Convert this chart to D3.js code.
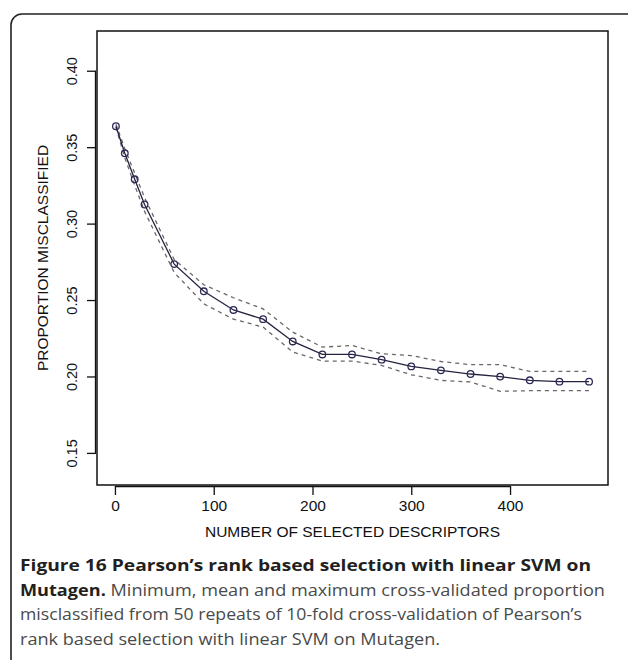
<!DOCTYPE html>
<html>
<head>
<meta charset="utf-8">
<script src="https://cdn.jsdelivr.net/npm/d3@7/dist/d3.min.js"></script>
<style>
  html, body { margin: 0; padding: 0; background: #fff; }
  svg { display: block; }
</style>
</head>
<body>
<svg id="chart" width="628" height="660"></svg>
<script>
// ---- data ----
const descriptors = [1, 10, 20, 30, 60, 90, 120, 150, 180, 210, 240, 270, 300, 330, 360, 390, 420, 450, 480];
const meanErr = [0.3637, 0.346, 0.329, 0.3125, 0.2735, 0.2557, 0.2435, 0.2375, 0.2229, 0.2144, 0.2144, 0.211, 0.2066, 0.204, 0.2016, 0.1999, 0.1975, 0.1966, 0.1966];
const maxErr  = [0.365, 0.349, 0.333, 0.317, 0.2765, 0.260, 0.2515, 0.2442, 0.229, 0.2192, 0.2203, 0.2148, 0.2137, 0.2098, 0.2077, 0.2077, 0.2033, 0.2033, 0.2033];
const minErr  = [0.363, 0.343, 0.325, 0.308, 0.268, 0.2475, 0.2375, 0.2323, 0.216, 0.2101, 0.2101, 0.2072, 0.2011, 0.1974, 0.1964, 0.1903, 0.1907, 0.1907, 0.1907];
const xTicks = [0, 100, 200, 300, 400];
const yTicks = [0.15, 0.20, 0.25, 0.30, 0.35, 0.40];
const xTitle = "NUMBER OF SELECTED DESCRIPTORS";
const yTitle = "PROPORTION MISCLASSIFIED";
const captionBold1 = "Figure 16 Pearson\u2019s rank based selection with linear SVM on";
const captionBold2 = "Mutagen.";
const captionRest2 = " Minimum, mean and maximum cross-validated proportion";
const captionLine3 = "misclassified from 50 repeats of 10-fold cross-validation of Pearson\u2019s";
const captionLine4 = "rank based selection with linear SVM on Mutagen.";

// ---- layout ----
const svg = d3.select("#chart");
const box = { left: 97, right: 608, top: 31, bottom: 485 };

const x = d3.scaleLinear().domain([-18.16, 499.16]).range([box.left, box.right]);
const y = d3.scaleLinear().domain([0.129, 0.426]).range([box.bottom, box.top]);

// outer frame (rounded, open to the right/bottom)
svg.append("rect")
  .attr("x", 11).attr("y", 14).attr("width", 700).attr("height", 700)
  .attr("rx", 11).attr("ry", 11)
  .attr("fill", "none").attr("stroke", "#222").attr("stroke-width", 1.6);

// plot box
svg.append("rect")
  .attr("x", box.left).attr("y", box.top)
  .attr("width", box.right - box.left).attr("height", box.bottom - box.top)
  .attr("fill", "none").attr("stroke", "#111").attr("stroke-width", 1.5);

// axes
const xAxis = svg.append("g")
  .attr("transform", `translate(0,${box.bottom + 1})`)
  .call(d3.axisBottom(x).tickValues(xTicks).tickSize(9).tickSizeOuter(0).tickPadding(5).tickFormat(d3.format("d")));
xAxis.select(".domain")
  .attr("d", `M${x(0)},0.5H${x(400)}`)
  .attr("stroke", "#111").attr("stroke-width", 1.3);
xAxis.selectAll(".tick line").attr("stroke", "#111").attr("stroke-width", 1.3);
xAxis.selectAll(".tick text")
  .attr("font-family", "'Liberation Sans', Arial, sans-serif")
  .attr("font-size", 15.5).attr("fill", "#111");

const yAxis = svg.append("g")
  .attr("transform", `translate(${box.left - 1},0)`)
  .call(d3.axisLeft(y).tickValues(yTicks).tickSize(9).tickSizeOuter(0).tickPadding(0).tickFormat(d3.format(".2f")));
yAxis.select(".domain")
  .attr("d", `M-0.5,${y(0.15)}V${y(0.40)}`)
  .attr("stroke", "#111").attr("stroke-width", 1.3);
yAxis.selectAll(".tick line").attr("stroke", "#111").attr("stroke-width", 1.3);
yAxis.selectAll(".tick text")
  .attr("font-family", "'Liberation Sans', Arial, sans-serif")
  .attr("font-size", 14.5).attr("fill", "#111")
  .attr("text-anchor", "middle")
  .attr("dy", null)
  .attr("x", null)
  .attr("transform", "translate(-24,0) rotate(-90)")
  .attr("dominant-baseline", "central");

// axis titles
svg.append("text")
  .attr("x", (box.left + box.right) / 2 + 0).attr("y", 537)
  .attr("text-anchor", "middle")
  .attr("font-family", "'Liberation Sans', Arial, sans-serif")
  .attr("font-size", 15.5).attr("fill", "#111")
  .text(xTitle);

svg.append("text")
  .attr("transform", `translate(48,${(box.top + box.bottom) / 2}) rotate(-90)`)
  .attr("text-anchor", "middle")
  .attr("font-family", "'Liberation Sans', Arial, sans-serif")
  .attr("font-size", 15.5).attr("fill", "#111")
  .text(yTitle);

// series
const pts = descriptors.map((d, i) => ({ x: d, mean: meanErr[i], max: maxErr[i], min: minErr[i] }));
const lineOf = key => d3.line().x(d => x(d.x)).y(d => y(d[key]));

["max", "min"].forEach(k => {
  svg.append("path")
    .datum(pts)
    .attr("d", lineOf(k))
    .attr("fill", "none")
    .attr("stroke", "#6f6468")
    .attr("stroke-width", 1.3)
    .attr("stroke-dasharray", "4,4");
});

svg.append("path")
  .datum(pts)
  .attr("d", lineOf("mean"))
  .attr("fill", "none")
  .attr("stroke", "#25233f")
  .attr("stroke-width", 1.3);

svg.append("g").selectAll("circle")
  .data(pts)
  .join("circle")
  .attr("cx", d => x(d.x))
  .attr("cy", d => y(d.mean))
  .attr("r", 3.3)
  .attr("fill", "none")
  .attr("stroke", "#2c2a55")
  .attr("stroke-width", 1.3);

// caption
const capFont = "'Open Sans', 'Noto Sans', sans-serif";
const cap = svg.append("g").attr("font-family", capFont).attr("font-size", 16.5);

function fitText(sel, target) {
  const w = sel.node().getComputedTextLength();
  if (w > 0) sel.attr("textLength", target).attr("lengthAdjust", "spacingAndGlyphs");
}

const l1 = cap.append("text").attr("x", 20).attr("y", 571)
  .attr("font-weight", "bold").attr("fill", "#231f20")
  .text(captionBold1);
fitText(l1, 571);

const l2 = cap.append("text").attr("x", 20).attr("y", 596);
l2.append("tspan").attr("font-weight", "bold").attr("fill", "#231f20").text(captionBold2);
l2.append("tspan").attr("fill", "#4a4a4a").text(captionRest2);
fitText(l2, 585);

const l3 = cap.append("text").attr("x", 20).attr("y", 620).attr("fill", "#4a4a4a").text(captionLine3);
fitText(l3, 562);

const l4 = cap.append("text").attr("x", 20).attr("y", 645).attr("fill", "#4a4a4a").text(captionLine4);
fitText(l4, 420);
</script>
</body>
</html>
